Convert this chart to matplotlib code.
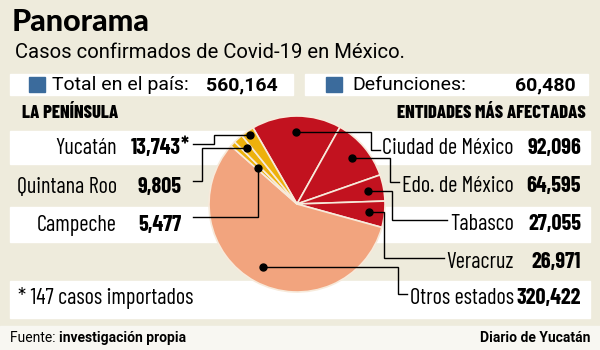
import numpy as np
import matplotlib
matplotlib.use("Agg")
import matplotlib.pyplot as plt
from matplotlib.patches import Rectangle

# Casos confirmados de Covid-19
total_pais = 560164
defunciones = 60480

peninsula = ["Yucatán", "Quintana Roo", "Campeche"]
peninsula_casos = [13743, 9805, 5477]

entidades = ["Ciudad de México", "Edo. de México", "Tabasco", "Veracruz", "Otros estados"]
entidades_casos = [92096, 64595, 27055, 26971, 320422]

importados = 147

# Fuentes
F_TIT = ["Lato", "DejaVu Sans"]
F_SUB = ["Roboto", "DejaVu Sans"]
F_COND = ["Barlow Condensed", "Fira Sans Extra Condensed", "Roboto Condensed", "DejaVu Sans"]
F_PIE = ["Roboto", "DejaVu Sans"]

FONDO = "#eeebdc"
ROJO = "#c2121f"
SALMON = "#f2a47e"
AMARILLO = "#edb10c"
AZUL = "#3b6b9c"

fig = plt.figure(figsize=(6, 3.5), dpi=100, facecolor=FONDO)
ax = fig.add_axes([0, 0, 1, 1])
ax.set_facecolor(FONDO)

# franjas blancas
ax.add_patch(Rectangle((10, 74), 283, 21, color="white", zorder=1))
ax.add_patch(Rectangle((305, 74), 283, 21, color="white", zorder=1))
for y0, y1 in [(131, 164), (207, 242), (281, 318)]:
    ax.add_patch(Rectangle((10, y0), 580, y1 - y0, color="white", zorder=1))
# pie de página
ax.add_patch(Rectangle((0, 326), 600, 24, color="#f8f7f2", zorder=1))

# encabezado
ax.text(12, 22, "Panorama", family=F_TIT, weight="black", fontsize=22, va="center")
ax.text(15, 53, "Casos confirmados de Covid-19 en México.", family=F_SUB,
        fontsize=14.6, va="center")

ax.add_patch(Rectangle((29, 77), 16, 15, color=AZUL, zorder=2))
ax.text(52, 85, "Total en el país:", family=F_SUB, fontsize=14, va="center", zorder=3)
ax.text(278, 85, f"{total_pais:,}", family=F_SUB, weight="bold", fontsize=14,
        va="center", ha="right", zorder=3)
ax.add_patch(Rectangle((326, 77), 16, 15, color=AZUL, zorder=2))
ax.text(352, 85, "Defunciones:", family=F_SUB, fontsize=14, va="center", zorder=3)
ax.text(576, 85, f"{defunciones:,}", family=F_SUB, weight="bold", fontsize=14,
        va="center", ha="right", zorder=3)

ax.text(22, 113, "LA PENÍNSULA", family=F_COND, weight="heavy", fontsize=13.3, va="center")
ax.text(586, 113, "ENTIDADES MÁS AFECTADAS", family=F_COND, weight="heavy",
        fontsize=13.3, va="center", ha="right")

# pastel (eje y invertido: counterclock=True se ve en sentido horario)
cx, cy, R = 297, 204, 88
valores = entidades_casos + peninsula_casos[::-1]
colores = [ROJO] * 4 + [SALMON] + [AMARILLO] * 3
wedges, _ = ax.pie(valores, colors=colores, center=(cx, cy), radius=R,
                   startangle=-120, counterclock=True,
                   wedgeprops=dict(edgecolor="#f7eadb", linewidth=1.2, zorder=4))


def punto(w, f):
    a = np.deg2rad((w.theta1 + w.theta2) / 2)
    return cx + f * R * np.cos(a), cy + f * R * np.sin(a)


def guia(pts, punto_final):
    xs, ys = zip(*pts)
    ax.plot(xs, ys, color="black", lw=1.0, zorder=5, solid_joinstyle="miter")
    ax.plot(*punto_final, "o", color="black", ms=5, zorder=6)


# textos de la península
fila_izq = [148, 187, 225]
for nombre, casos, y in zip(peninsula, peninsula_casos, fila_izq):
    ax.text(117, y, nombre, family=F_COND, fontsize=16, va="center", ha="right", zorder=3)
    ax.text(181, y, f"{casos:,}", family=F_COND, weight="bold", fontsize=16,
            va="center", ha="right", zorder=3)
ax.text(181, fila_izq[0] - 2, "*", family=F_COND, weight="bold", fontsize=16,
        va="center", ha="left", zorder=3)

# textos de las entidades
fila_der = [148, 186, 224, 262, 298]
nombres_der = []
for nombre, casos, y in zip(entidades, entidades_casos, fila_der):
    t = ax.text(514, y, nombre, family=F_COND, fontsize=16, va="center", ha="right", zorder=3)
    nombres_der.append(t)
    ax.text(581, y, f"{casos:,}", family=F_COND, weight="bold", fontsize=16,
            va="center", ha="right", zorder=3)

ax.text(18, 298, f"* {importados} casos importados", family=F_COND, fontsize=16,
        va="center", zorder=3)

# pie de página
t_fuente = ax.text(10, 338, "Fuente: ", family=F_PIE, fontsize=10, va="center", zorder=3)
ax.text(590, 338, "Diario de Yucatán", family=F_PIE, weight="bold", fontsize=10,
        va="center", ha="right", zorder=3)

ax.set_xlim(0, 600)
ax.set_ylim(350, 0)
ax.set_aspect("equal")
ax.axis("off")

fig.canvas.draw()
inv = ax.transData.inverted()
x_fuente = inv.transform(t_fuente.get_window_extent().get_points())[1][0]
ax.text(x_fuente, 338, "investigación propia", family=F_PIE, weight="bold",
        fontsize=10, va="center", zorder=3)

# líneas guía de la península (Yucatán, Quintana Roo, Campeche)
yuc, qroo, camp = wedges[7], wedges[6], wedges[5]
for w, f, y, xe in [(yuc, 0.95, fila_izq[0] - 4, 214),
                    (qroo, 0.85, fila_izq[1] - 6, 202),
                    (camp, 0.6, fila_izq[2] - 8, None)]:
    px, py = punto(w, f)
    xe = px if xe is None else xe
    guia([(193, y), (xe, y), (xe, py), (px, py)], (px, py))

# líneas guía de las entidades
for i, (w, t, y) in enumerate(zip(wedges[:5], nombres_der, fila_der)):
    px, py = punto(w, 0.82)
    x_txt = inv.transform(t.get_window_extent().get_points())[0][0] - 3
    xe = [x_txt - 9, x_txt - 9, 392, 384, x_txt - 9][i]
    yl = y + 2 if i == 0 else y - 4
    guia([(px, py), (xe, py), (xe, yl), (x_txt, yl)], (px, py))

fig.savefig("out.png", dpi=100, facecolor=FONDO)
